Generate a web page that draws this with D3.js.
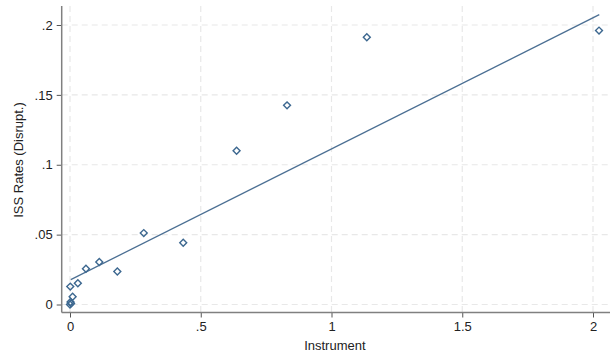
<!DOCTYPE html>
<html>
<head>
<meta charset="utf-8">
<script src="https://cdn.jsdelivr.net/npm/d3@7"></script>
<style>
  html, body { margin: 0; padding: 0; background: #ffffff; }
  svg { display: block; }
  text { font-family: "Liberation Sans", Arial, sans-serif; }
</style>
</head>
<body>
<svg id="chart" width="610" height="358"></svg>
<script>
// Observations: instrument value and ISS disruption rate
const instrument = [0.000, 0.002, 0.004, 0.010, 0.001, 0.030, 0.061, 0.112, 0.181, 0.282, 0.433, 0.637, 0.830, 1.135, 2.023];
const issRates   = [0.0000, 0.0018, 0.0008, 0.0055, 0.0128, 0.0152, 0.0256, 0.0304, 0.0236, 0.0511, 0.0442, 0.1100, 0.1425, 0.1912, 0.1960];

// Linear fit endpoints (x, fitted y)
const fitX = [0.003, 2.024];
const fitY = [0.0178, 0.2074];

// Tick values and labels
const xTicks = [0, 0.5, 1, 1.5, 2];
const xTickLabels = ["0", ".5", "1", "1.5", "2"];
const yTicks = [0, 0.05, 0.1, 0.15, 0.2];
const yTickLabels = ["0", ".05", ".1", ".15", ".2"];

const svg = d3.select("#chart");

const x = d3.scaleLinear().domain([0, 2]).range([70, 593]);
const y = d3.scaleLinear().domain([0, 0.2]).range([304.5, 25]);

const axisX = 61.7;   // position of the y axis line
const axisY = 312.5;  // position of the x axis line
const plotTop = 6;
const plotRight = 610;

const markColor = "#3d6890";
const lineColor = "#4b6f93";
const gridColor = "#e8e8e8";
const textColor = "#222222";
const axisColor = "#808080";

// Dashed grid
const grid = svg.append("g");
grid.selectAll("line.h").data(yTicks).join("line")
  .attr("class", "h")
  .attr("x1", axisX).attr("x2", plotRight)
  .attr("y1", d => y(d)).attr("y2", d => y(d))
  .attr("stroke", gridColor).attr("stroke-width", 1.2)
  .attr("stroke-dasharray", "6,4");
grid.selectAll("line.v").data(xTicks).join("line")
  .attr("class", "v")
  .attr("y1", plotTop).attr("y2", axisY)
  .attr("x1", d => x(d)).attr("x2", d => x(d))
  .attr("stroke", gridColor).attr("stroke-width", 1.2)
  .attr("stroke-dasharray", "6,4");

// Y axis
const yAxis = d3.axisLeft(y).tickValues(yTicks)
  .tickFormat((d, i) => yTickLabels[i]).tickSize(5).tickPadding(4).tickSizeOuter(0);
const gy = svg.append("g").attr("transform", `translate(${axisX},0)`).call(yAxis);
gy.select(".domain").remove();
gy.append("line").attr("x1", 0).attr("x2", 0).attr("y1", plotTop).attr("y2", axisY)
  .attr("stroke", axisColor).attr("stroke-width", 1.5);
gy.selectAll(".tick line").attr("stroke", "#555").attr("stroke-width", 1);
gy.selectAll(".tick text").attr("fill", textColor).attr("font-size", 13)
  .attr("font-family", "'Liberation Sans', Arial, sans-serif");

// X axis
const xAxis = d3.axisBottom(x).tickValues(xTicks)
  .tickFormat((d, i) => xTickLabels[i]).tickSize(5).tickPadding(4).tickSizeOuter(0);
const gx = svg.append("g").attr("transform", `translate(0,${axisY})`).call(xAxis);
gx.select(".domain").remove();
gx.append("line").attr("x1", axisX).attr("x2", plotRight).attr("y1", 0).attr("y2", 0)
  .attr("stroke", axisColor).attr("stroke-width", 1.5);
gx.selectAll(".tick line").attr("stroke", "#555").attr("stroke-width", 1);
gx.selectAll(".tick text").attr("fill", textColor).attr("font-size", 13)
  .attr("font-family", "'Liberation Sans', Arial, sans-serif");

// Axis titles
svg.append("text")
  .attr("x", (axisX + plotRight) / 2 - 1).attr("y", 350)
  .attr("text-anchor", "middle").attr("font-size", 13).attr("fill", textColor)
  .text("Instrument");
svg.append("text")
  .attr("transform", `translate(23,160) rotate(-90)`)
  .attr("text-anchor", "middle").attr("font-size", 13).attr("fill", textColor)
  .text("ISS Rates (Disrupt.)");

// Fitted line
const fitData = fitX.map((v, i) => [v, fitY[i]]);
svg.append("path")
  .datum(fitData)
  .attr("d", d3.line().x(d => x(d[0])).y(d => y(d[1])))
  .attr("fill", "none").attr("stroke", lineColor).attr("stroke-width", 1.3);

// Hollow diamond markers
const pts = instrument.map((v, i) => ({ x: v, y: issRates[i] }));
const diamond = d3.symbol().type(d3.symbolSquare).size(24);
svg.append("g").selectAll("path").data(pts).join("path")
  .attr("d", diamond)
  .attr("transform", d => `translate(${x(d.x)},${y(d.y)}) rotate(45)`)
  .attr("fill", "none").attr("stroke", markColor).attr("stroke-width", 1.4);
</script>
</body>
</html>
